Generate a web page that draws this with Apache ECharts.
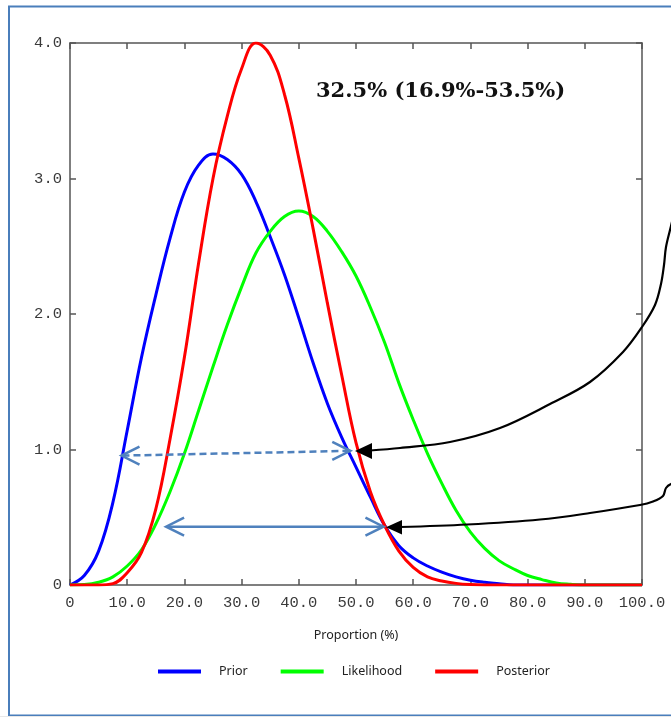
<!DOCTYPE html>
<html>
<head>
<meta charset="utf-8">
<script src="https://cdn.jsdelivr.net/npm/echarts@6/dist/echarts.min.js"></script>
<style>
html,body{margin:0;padding:0;background:#fff;}
#c{width:671px;height:717px;}
</style>
</head>
<body>
<div id="c"></div>
<script>
// Proportion (%) sample positions
const xValues = [0,2.5,5,7.5,10,12.5,15,17.5,20,22.5,25,27.5,30,32.5,35,37.5,40,42.5,45,47.5,50,52.5,55,57.5,60,62.5,65,67.5,70,72.5,75,77.5,80,82.5,85,87.5,90,92.5,95,97.5,100];
const prior = [0,0.07,0.25,0.61,1.14,1.68,2.14,2.56,2.90,3.10,3.18,3.14,3.03,2.83,2.57,2.29,1.97,1.64,1.34,1.09,0.87,0.65,0.44,0.29,0.20,0.14,0.095,0.06,0.035,0.02,0.01,0,0,0,0,0,0,0,0,0,0];
const likelihood = [0,0.003,0.02,0.06,0.14,0.26,0.45,0.69,0.97,1.29,1.61,1.92,2.20,2.45,2.61,2.72,2.76,2.72,2.61,2.46,2.28,2.05,1.79,1.49,1.22,0.97,0.75,0.55,0.39,0.27,0.18,0.12,0.07,0.04,0.015,0.005,0,0,0,0,0];
const posterior = [0,0,0,0.01,0.09,0.24,0.56,1.08,1.68,2.38,3.00,3.46,3.81,4.00,3.91,3.62,3.15,2.63,2.08,1.55,1.05,0.69,0.44,0.25,0.13,0.06,0.03,0.012,0.003,0,0,0,0,0,0,0,0,0,0,0,0];
const seriesNames = ['Prior','Likelihood','Posterior'];
const summaryText = '32.5% (16.9%-53.5%)';
const xTickMin = 0, xTickMax = 100, xTickStep = 10;
const yTickMin = 0, yTickMax = 4, yTickStep = 1;
// annotation anchors in data units
const dashedArrow = [[9.0, 0.955], [49.0, 0.99]];
const solidArrow = [[16.8, 0.43], [54.8, 0.43]];

const chart = echarts.init(document.getElementById('c'), null, {renderer:'canvas'});
const pairs = arr => xValues.map((x,i)=>[x, arr[i]]);
const colors = ['#0000ff','#00ff00','#ff0000'];
const axisCol = '#555555';
const labFont = {fontFamily:'Liberation Mono', fontSize:15.5, color:'#3a3a3a'};
const xFmt = v => v===0 ? '0' : v.toFixed(1);

chart.setOption({
  animation:false,
  backgroundColor:'#ffffff',
  grid:{left:70, right:29, top:43, bottom:132, containLabel:false},
  legend:{
    left:153, top:660, itemWidth:43, itemHeight:4, itemGap:33, icon:'rect',
    data:seriesNames,
    textStyle:{fontFamily:'Noto Sans', fontSize:12.5, color:'#222', padding:[0,0,0,13]}
  },
  xAxis:[
    {type:'value', min:xTickMin, max:xTickMax, interval:xTickStep, position:'bottom',
     name:'Proportion (%)', nameLocation:'middle', nameGap:44,
     nameTextStyle:{fontFamily:'Noto Sans', fontSize:12.5, color:'#222'},
     axisLine:{show:true, onZero:false, lineStyle:{color:axisCol, width:1.5}},
     axisTick:{show:true, inside:true, length:6, lineStyle:{color:axisCol, width:1.5}},
     axisLabel:Object.assign({margin:10, formatter:xFmt}, labFont),
     splitLine:{show:false}},
    {type:'value', min:xTickMin, max:xTickMax, interval:xTickStep, position:'top',
     axisLine:{show:true, onZero:false, lineStyle:{color:axisCol, width:1.5}},
     axisTick:{show:true, inside:true, length:6, lineStyle:{color:axisCol, width:1.5}},
     axisLabel:{show:false}, splitLine:{show:false}}
  ],
  yAxis:[
    {type:'value', min:yTickMin, max:yTickMax, interval:yTickStep, position:'left',
     axisLine:{show:true, onZero:false, lineStyle:{color:axisCol, width:1.5}},
     axisTick:{show:true, inside:true, length:6, lineStyle:{color:axisCol, width:1.5}},
     axisLabel:Object.assign({margin:8, formatter:xFmt}, labFont),
     splitLine:{show:false}},
    {type:'value', min:yTickMin, max:yTickMax, interval:yTickStep, position:'right',
     axisLine:{show:true, onZero:false, lineStyle:{color:axisCol, width:1.5}},
     axisTick:{show:true, inside:true, length:6, lineStyle:{color:axisCol, width:1.5}},
     axisLabel:{show:false}, splitLine:{show:false}}
  ],
  series:[prior, likelihood, posterior].map((arr,i)=>({
    name:seriesNames[i], type:'line', data:pairs(arr), showSymbol:false, symbol:'none',
    smooth:0.4, color:colors[i], lineStyle:{color:colors[i], width:3}, z:2+i
  }))
});

const toPx = p => chart.convertToPixel({xAxisIndex:0, yAxisIndex:0}, p);
const arrowBlue = '#4f81bd';
function chevron(tip, dir, w){
  return {type:'polyline', shape:{points:[[tip[0]-dir*18, tip[1]-9],[tip[0], tip[1]],[tip[0]-dir*18, tip[1]+9]]},
    style:{stroke:arrowBlue, lineWidth:w, fill:null}, z:20};
}
const d0 = toPx(dashedArrow[0]), d1 = toPx(dashedArrow[1]);
const s0 = toPx(solidArrow[0]), s1 = toPx(solidArrow[1]);

const g = [
  {type:'rect', shape:{x:9, y:6.5, width:700, height:709}, style:{stroke:'#4a7ebb', lineWidth:2, fill:null}, z:1},
  {type:'rect', shape:{x:0, y:716, width:671, height:1}, style:{fill:'#e8e8e8'}, z:1},
  {type:'text', left:316, top:81, style:{text:summaryText, font:'bold 21px "DejaVu Serif"', fill:'#111'}, z:20},
  {type:'line', shape:{x1:d0[0]+1, y1:d0[1], x2:d1[0]-1, y2:d1[1]}, style:{stroke:arrowBlue, lineWidth:2.5, lineDash:[7,4]}, z:20},
  chevron(d0,-1,2.5), chevron(d1,1,2.5),
  {type:'line', shape:{x1:s0[0]+1, y1:s0[1], x2:s1[0]-1, y2:s1[1]}, style:{stroke:arrowBlue, lineWidth:2.5}, z:20},
  chevron(s0,-1,2.5), chevron(s1,1,2.5),
  {type:'polyline', shape:{smooth:0.35, points:[[676,205],[671,226],[666,247],[664,265],[661,284],[655,305],[642,327],[623,352],[590,382],[550,404],[500,428],[450,442],[400,448],[370,450.5]]},
   style:{stroke:'#000', lineWidth:2.2, fill:null}, z:20},
  {type:'polygon', shape:{points:[[355,451],[372,443],[372,459]]}, style:{fill:'#000'}, z:20},
  {type:'polyline', shape:{smooth:0.35, points:[[680,482],[671,484],[666,488],[663,496],[653,501.5],[640,505],[590,513],[540,519.5],[467,524.5],[400,527]]},
   style:{stroke:'#000', lineWidth:2.2, fill:null}, z:20},
  {type:'polygon', shape:{points:[[386,527.3],[402,520],[402,534.5]]}, style:{fill:'#000'}, z:20}
];
chart.setOption({graphic:g});
</script>
</body>
</html>
